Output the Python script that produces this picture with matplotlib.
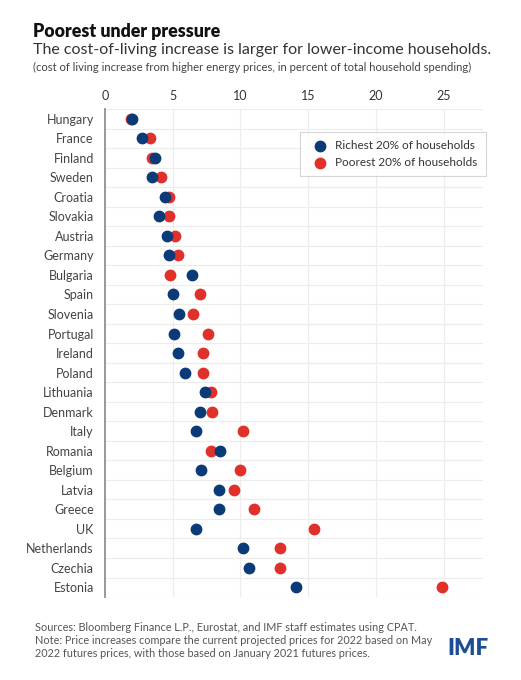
import matplotlib.pyplot as plt

# values (percent of total household spending)
countries = ["Hungary", "France", "Finland", "Sweden", "Croatia", "Slovakia", "Austria",
             "Germany", "Bulgaria", "Spain", "Slovenia", "Portugal", "Ireland", "Poland",
             "Lithuania", "Denmark", "Italy", "Romania", "Belgium", "Latvia", "Greece",
             "UK", "Netherlands", "Czechia", "Estonia"]
richest = [2.0, 2.7, 3.7, 3.5, 4.4, 4.0, 4.6, 4.7, 6.4, 5.0, 5.5, 5.1, 5.4, 5.9,
           7.4, 7.0, 6.7, 8.5, 7.1, 8.4, 8.4, 6.7, 10.2, 10.6, 14.1]
poorest = [1.9, 3.3, 3.5, 4.1, 4.7, 4.7, 5.2, 5.4, 4.8, 7.0, 6.5, 7.6, 7.2, 7.2,
           7.8, 7.9, 10.2, 7.8, 10.0, 9.5, 11.0, 15.4, 12.9, 12.9, 24.9]
xticks = [0, 5, 10, 15, 20, 25]

navy = "#0b3a78"
red = "#e0302a"
font = ["Lato", "DejaVu Sans"]
plt.rcParams["font.family"] = font

fig = plt.figure(figsize=(5.21, 6.8), dpi=100)
ax = fig.add_axes([0.2015, 0.122, 0.7255, 0.7177])

ypos = list(range(len(countries)))
ax.scatter(poorest, ypos, s=56, color=red, zorder=3, label="Poorest 20% of households")
ax.scatter(richest, ypos, s=56, color=navy, zorder=4, label="Richest 20% of households")

ax.set_xlim(0, 27.9)
ax.set_ylim(len(countries) - 0.5, -0.5)

# gridlines between rows and at x ticks
for i in range(len(countries) + 1):
    ax.axhline(i - 0.5, color="#ececec", lw=0.8, zorder=1)
for t in xticks[1:]:
    ax.axvline(t, color="#ececec", lw=0.8, zorder=1)

for s in ["top", "right", "bottom"]:
    ax.spines[s].set_visible(False)
ax.spines["left"].set_color("#999999")
ax.spines["left"].set_linewidth(1.4)

ax.xaxis.tick_top()
ax.set_xticks(xticks)
ax.tick_params(axis="x", length=0, labelsize=9, labelcolor="#333333", pad=5)
ax.set_yticks(ypos)
ax.set_yticklabels(countries)
ax.tick_params(axis="y", length=0, labelsize=9, labelcolor="#444444", pad=8)

handles, labels = ax.get_legend_handles_labels()
leg = ax.legend(handles[::-1], labels[::-1], loc="upper left", bbox_to_anchor=(0.5, 0.965),
                fontsize=8.5, frameon=True, fancybox=False, edgecolor="#cccccc",
                handletextpad=0.3, borderpad=0.7, labelspacing=0.5)
leg.get_frame().set_linewidth(0.8)
for t in leg.get_texts():
    t.set_color("#333333")

fig.text(0.063, 0.954, "Poorest under pressure", fontsize=12.8, fontweight="heavy",
         color="#111111", va="center")
fig.text(0.063, 0.926, "The cost-of-living increase is larger for lower-income households.",
         fontsize=11.5, color="#333333", va="center")
fig.text(0.063, 0.901, "(cost of living increase from higher energy prices, in percent of total household spending)",
         fontsize=8.1, color="#444444", va="center")

fig.text(0.067, 0.086,
         "Sources: Bloomberg Finance L.P., Eurostat, and IMF staff estimates using CPAT.\n"
         "Note: Price increases compare the current projected prices for 2022 based on May\n"
         "2022 futures prices, with those based on January 2021 futures prices.",
         fontsize=7.8, color="#555555", va="top", linespacing=1.25)
fig.text(0.937, 0.047, "IMF", fontsize=16, fontweight="heavy", color="#1b4e92",
         ha="right", va="center")

fig.savefig("out.png", dpi=100)
